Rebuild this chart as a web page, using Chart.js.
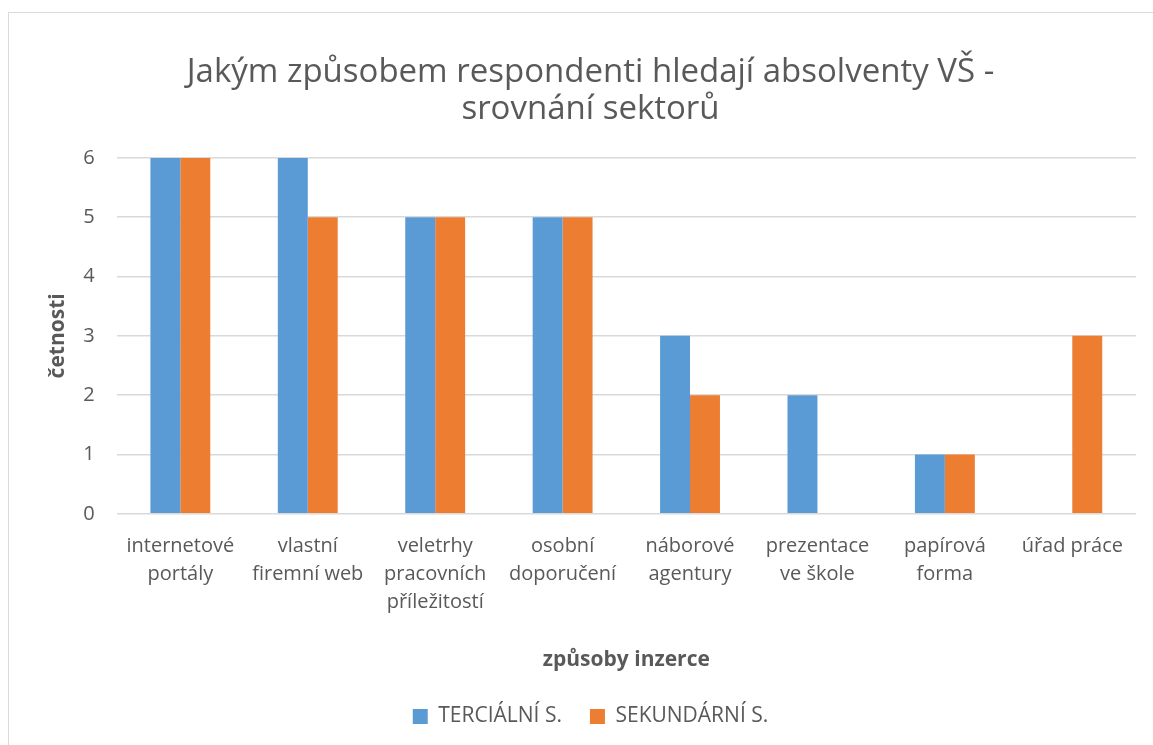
<!DOCTYPE html>
<html>
<head>
<meta charset="utf-8">
<script src="https://cdn.jsdelivr.net/npm/chart.js@4"></script>
<style>
  html, body { margin: 0; padding: 0; background: #fff; overflow: hidden; }
  #frame { position: absolute; left: 8px; top: 12px; width: 1200px; height: 800px; border: 1px solid #d9d9d9; }
  #wrap { position: absolute; left: 0; top: 0; width: 1153px; height: 745px; }
</style>
</head>
<body>
<div id="frame"></div>
<div id="wrap"><canvas id="chart"></canvas></div>
<script>
// --- Survey: how respondents look for graduates, by sector ---

const categories = [
  ['internetové', 'portály'],
  ['vlastní', 'firemní web'],
  ['veletrhy', 'pracovních', 'příležitostí'],
  ['osobní', 'doporučení'],
  ['náborové', 'agentury'],
  ['prezentace', 've škole'],
  ['papírová', 'forma'],
  ['úřad práce']
];
const tercialni = [6, 6, 5, 5, 3, 2, 1, 0];
const sekundarni = [6, 5, 5, 5, 2, 0, 1, 3];
const yTicks = [0, 1, 2, 3, 4, 5, 6];

const FONT = "'Open Sans', 'Liberation Sans', sans-serif";
const GREY = '#595959';

new Chart(document.getElementById('chart'), {
  type: 'bar',
  data: {
    labels: categories,
    datasets: [
      { label: 'TERCIÁLNÍ S.', data: tercialni, backgroundColor: '#5b9bd5' },
      { label: 'SEKUNDÁRNÍ S.', data: sekundarni, backgroundColor: '#ed7d31' }
    ]
  },
  options: {
    responsive: true,
    maintainAspectRatio: false,
    animation: false,
    layout: { padding: { top: 54, left: 45, right: 17, bottom: 8 } },
    datasets: { bar: { categoryPercentage: 0.47, barPercentage: 1.0 } },
    scales: {
      x: {
        grid: { display: false },
        border: { display: false },
        ticks: { color: GREY, font: { family: FONT, size: 20, lineHeight: 1.4 }, maxRotation: 0, autoSkip: false, padding: 10 },
        title: { display: true, text: 'způsoby inzerce', color: GREY, font: { family: FONT, size: 21, weight: 'bold' }, padding: { top: 22, bottom: 5 } }
      },
      y: {
        min: 0,
        max: 6,
        afterBuildTicks: axis => { axis.ticks = yTicks.map(v => ({ value: v })); },
        grid: { color: '#d9d9d9', lineWidth: 1.5, drawTicks: false },
        border: { display: false },
        ticks: { color: GREY, font: { family: FONT, size: 20 }, padding: 22 },
        title: { display: true, text: 'četnosti', color: GREY, font: { family: FONT, size: 21, weight: 'bold' }, padding: { top: 0, bottom: -9 } }
      }
    },
    plugins: {
      title: {
        display: true,
        text: ['Jakým způsobem respondenti hledají absolventy VŠ -', 'srovnání sektorů'],
        color: GREY,
        font: { family: FONT, size: 33, weight: 'normal', lineHeight: 1.12 },
        padding: { top: 0, bottom: 30 }
      },
      legend: {
        position: 'bottom',
        labels: { color: GREY, font: { family: FONT, size: 21 }, boxWidth: 15, boxHeight: 15, padding: 28 }
      },
      tooltip: { enabled: false }
    }
  }
});
</script>
</body>
</html>
